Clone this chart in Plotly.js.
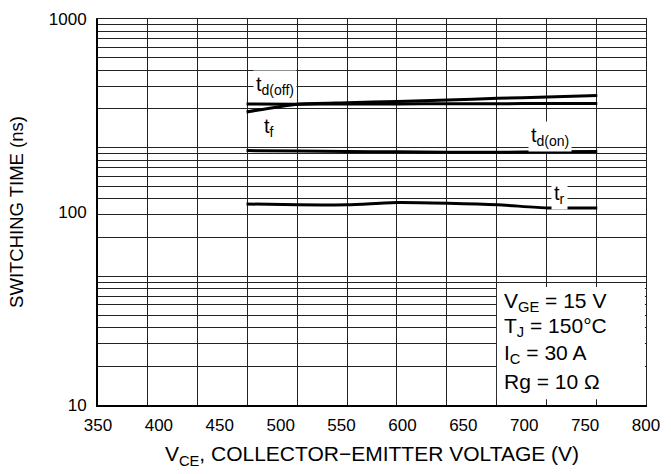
<!DOCTYPE html>
<html>
<head>
<meta charset="utf-8">
<script src="https://cdn.plot.ly/plotly-3.0.1.min.js"></script>
<style>html,body{margin:0;padding:0;background:#fff;}</style>
</head>
<body>
<div id="chart" style="width:671px;height:474px;"></div>
<script>
// ---- data ----
const vce   = [472, 514, 555, 596, 637, 678, 719, 760];   // V
const tdOff = [363, 362, 363, 363, 364, 364, 365, 365];   // ns
const tf    = [330, 362, 368, 374, 380, 388, 394, 402];   // ns
const tdOn  = [208, 207, 206, 205, 204, 204, 205, 206];   // ns
const tr    = [110, 109, 109, 112, 111, 109, 105, 105];   // ns

const xTickVals = [350, 400, 450, 500, 550, 600, 650, 700, 750, 800];
const xTickText = ['350','400','450','500','550','600','650','700','750','800'];
const yTickVals = [10, 100, 1000];
const yTickText = ['10', '100', '1000'];

const curveLabels = ['t<sub>d(off)</sub>', 't<sub>f</sub>', 't<sub>d(on)</sub>', 't<sub>r</sub>'];
const conditions = ['V<sub>GE</sub> = 15 V', 'T<sub>J</sub> = 150°C', 'I<sub>C</sub> = 30 A', 'Rg = 10 Ω'];
const xTitle = 'V<sub>CE</sub>, COLLECTOR−EMITTER VOLTAGE (V)';
const yTitle = 'SWITCHING TIME (ns)';

// ---- styling ----
const FONT = 'Liberation Sans, Arial, Helvetica, sans-serif';
const GRID = '#222';
const lineStyle = {color: '#000', width: 3, shape: 'spline', smoothing: 0.6};

const series = [tdOff, tf, tdOn, tr];
const traces = series.map(s => ({
  type: 'scatter', mode: 'lines', x: vce, y: s,
  line: lineStyle, hoverinfo: 'skip', showlegend: false
}));
// empty trace that activates the background grid axes
traces.unshift({type: 'scatter', mode: 'lines', x: [], y: [], xaxis: 'x2', yaxis: 'y2',
  showlegend: false, hoverinfo: 'skip'});

const labelPos = [
  {x: 477, y: 2.655, xanchor: 'left'},
  {x: 484, y: 2.437, xanchor: 'left'},
  {x: 739, y: 2.390, xanchor: 'right'},
  {x: 722, y: 2.090, xanchor: 'left'}
];
const annotations = curveLabels.map((t, i) => ({
  text: t, xref: 'x', yref: 'y', x: labelPos[i].x, y: labelPos[i].y,
  xanchor: labelPos[i].xanchor, yanchor: 'middle', showarrow: false,
  bgcolor: '#fff', borderpad: 2, font: {family: FONT, size: 20, color: '#000'}
}));
const condY = [0.268, 0.202, 0.132, 0.062];
conditions.forEach((t, i) => annotations.push({
  text: t, xref: 'paper', yref: 'paper', x: 0.738, y: condY[i],
  xanchor: 'left', yanchor: 'middle', showarrow: false, align: 'left',
  font: {family: FONT, size: 21, color: '#000'}
}));

const layout = {
  width: 671, height: 474,
  margin: {l: 98, r: 25, t: 19, b: 69},
  paper_bgcolor: '#fff', plot_bgcolor: '#fff',
  font: {family: FONT, size: 17, color: '#000'},
  showlegend: false,
  xaxis: {
    range: [350, 800], tickmode: 'array', tickvals: xTickVals, ticktext: xTickText,
    showgrid: false, zeroline: false, showline: true, linecolor: '#000', linewidth: 2,
    ticks: '', ticklabelstandoff: 4, tickfont: {family: FONT, size: 17, color: '#000'},
    title: {text: xTitle, font: {family: FONT, size: 21, color: '#000'}, standoff: 12}
  },
  yaxis: {
    type: 'log', range: [1, 3], tickmode: 'array', tickvals: yTickVals, ticktext: yTickText,
    showgrid: false, zeroline: false, showline: true, linecolor: '#000', linewidth: 2,
    ticks: '', ticklabelstandoff: 6, tickfont: {family: FONT, size: 17, color: '#000'},
    title: {text: yTitle, font: {family: FONT, size: 18.5, color: '#000'}, standoff: 20}
  },
  xaxis2: {
    overlaying: 'x', side: 'top', range: [0, 11], tick0: 0, dtick: 1,
    showgrid: true, gridcolor: GRID, gridwidth: 1, showticklabels: false, ticks: '',
    zeroline: false, showline: true, linecolor: GRID, linewidth: 1
  },
  yaxis2: {
    overlaying: 'y', side: 'right', type: 'log', range: [0, 3], dtick: 'D1',
    showgrid: true, gridcolor: GRID, gridwidth: 1, showticklabels: false, ticks: '',
    zeroline: false, showline: true, linecolor: GRID, linewidth: 1
  },
  shapes: [{
    type: 'rect', layer: 'above', xref: 'paper', yref: 'paper',
    x0: 0.728, x1: 0.998, y0: 0.015, y1: 0.306,
    fillcolor: '#fff', line: {width: 0}
  }],
  annotations: annotations
};

Plotly.newPlot('chart', traces, layout, {staticPlot: true, displayModeBar: false});
</script>
</body>
</html>
